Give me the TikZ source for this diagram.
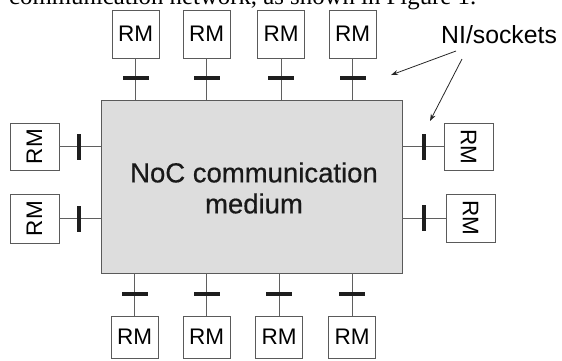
\documentclass[tikz,border=0pt]{standalone}
\usepackage{fontspec}
\setmainfont{Liberation Sans}
\newfontfamily\captionserif{Liberation Serif}
\newfontfamily\heavysans[FakeBold=0.5]{Liberation Sans}
\usetikzlibrary{arrows.meta}
\definecolor{mediumfill}{RGB}{221,221,221}
\definecolor{boxline}{RGB}{90,90,90}
\definecolor{wiregray}{RGB}{95,95,95}
\definecolor{barblack}{RGB}{30,30,30}
\begin{document}
\begin{tikzpicture}[x=1pt,y=-1pt,
  rmbox/.style={draw=boxline,line width=0.9pt,fill=white,inner sep=0pt,
    minimum width=47pt,minimum height=48pt,font=\fontsize{22.5}{26}\selectfont},
  wire/.style={draw=wiregray,line width=0.9pt},
  hbar/.style={fill=barblack,inner sep=0pt,minimum width=26pt,minimum height=3.2pt},
  vbar/.style={fill=barblack,inner sep=0pt,minimum width=3.2pt,minimum height=26pt},
  pointer/.style={draw=black!85,line width=0.8pt,-{Stealth[length=7pt,width=5pt]}}]
\useasboundingbox (0,0) rectangle (562,360);
\begin{scope}
\clip (0,0) rectangle (562,360);
\node[font=\captionserif\fontsize{24.8}{28}\selectfont,anchor=base west,inner sep=0pt]
  (caption) at (9,4) {communication network, as shown in Figure 1.};
\end{scope}

% central medium
\node[draw=boxline,line width=0.9pt,fill=mediumfill,minimum width=301pt,minimum height=173pt,
  inner sep=0pt] (noc) at (251.5,186.5) {};
\node[align=center,font=\heavysans\fontsize{27.5}{31}\selectfont,inner sep=0pt,text=black!90] (noctext) at (254,188)
  {NoC communication\\medium};

% top modules
\node[rmbox] (t1) at (135.5,34) {RM};
\node[rmbox] (t2) at (206.5,34) {RM};
\node[rmbox] (t3) at (281,34) {RM};
\node[rmbox] (t4) at (352.5,34) {RM};
% bottom modules
\node[rmbox,minimum height=42pt] (b1) at (134.5,337) {RM};
\node[rmbox,minimum height=42pt] (b2) at (206.5,337) {RM};
\node[rmbox,minimum height=42pt] (b3) at (279,337) {RM};
\node[rmbox,minimum height=42pt] (b4) at (352,337) {RM};
% left modules
\node[rmbox,minimum width=49pt,minimum height=47pt] (l1) at (34.5,146.5) {\rotatebox{90}{RM}};
\node[rmbox,minimum width=49pt,minimum height=49pt] (l2) at (34.5,218.5) {\rotatebox{90}{RM}};
% right modules
\node[rmbox,minimum width=49pt,minimum height=47pt] (r1) at (468.5,146.5) {\rotatebox{-90}{RM}};
\node[rmbox,minimum width=49pt,minimum height=48pt] (r2) at (470.5,218) {\rotatebox{-90}{RM}};

% wires
\foreach \m in {t1,t2,t3,t4}{\draw[wire] (\m.south) -- (\m.south |- noc.north);}
\foreach \m in {b1,b2,b3,b4}{\draw[wire] (\m.north) -- (\m.north |- noc.south);}
\foreach \m in {l1,l2}{\draw[wire] (\m.east) -- (\m.east -| noc.west);}
\foreach \m in {r1,r2}{\draw[wire] (\m.west) -- (\m.west -| noc.east);}

% NI/socket bars
\node[hbar] (nt1) at (135.5,78) {};
\node[hbar] (nt2) at (206.5,78) {};
\node[hbar] (nt3) at (281,78) {};
\node[hbar] (nt4) at (352.5,78) {};
\node[hbar] (nb1) at (134.5,294) {};
\node[hbar] (nb2) at (206.5,294) {};
\node[hbar] (nb3) at (279,294) {};
\node[hbar] (nb4) at (352,294) {};
\node[vbar] (nl1) at (79,146.5) {};
\node[vbar] (nl2) at (79,218.5) {};
\node[vbar] (nr1) at (424,146.5) {};
\node[vbar] (nr2) at (424,218) {};

% label and pointers
\node[anchor=base west,inner sep=0pt,font=\fontsize{24.8}{28}\selectfont] (ni) at (441,43) {NI/sockets};
\coordinate (p1start) at (456,51);
\coordinate (p1end) at (391,75);
\coordinate (p2start) at (462,59);
\coordinate (p2end) at (430,121);
\draw[pointer] (p1start) -- (p1end);
\draw[pointer] (p2start) -- (p2end);
\end{tikzpicture}
\end{document}
